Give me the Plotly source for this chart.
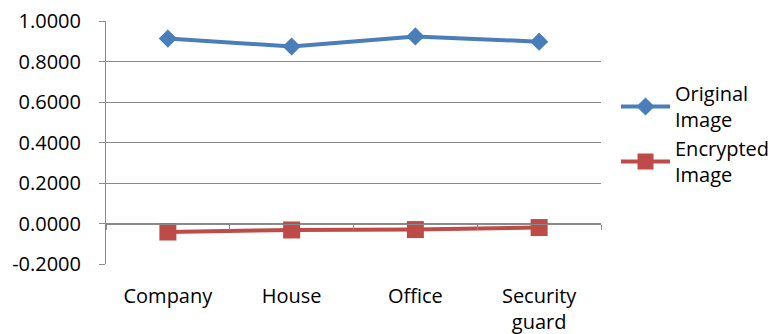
import plotly.graph_objects as go

# Category labels and per-scene correlation values
categories = ["Company", "House", "Office", "Security guard"]
tick_labels = ["Company", "House", "Office", "Security<br>guard"]
original = [0.9130, 0.8740, 0.9240, 0.8980]
encrypted = [-0.0420, -0.0320, -0.0300, -0.0200]

y_ticks = [-0.2, 0.0, 0.2, 0.4, 0.6, 0.8, 1.0]
y_tick_text = [f"{v:.4f}" for v in y_ticks]

BLUE = "#4A7EBB"
RED = "#BE4B48"
GRID = "#8A8A8A"
FONT = "Open Sans"
FS = 20

fig = go.Figure()

fig.add_trace(go.Scatter(
    x=categories, y=original, name="Original<br>Image",
    mode="lines+markers",
    line=dict(color=BLUE, width=4),
    marker=dict(symbol="diamond", size=14, color=BLUE),
))
fig.add_trace(go.Scatter(
    x=categories, y=encrypted, name="Encrypted<br>Image",
    mode="lines+markers",
    line=dict(color=RED, width=4),
    marker=dict(symbol="square", size=17, color=RED),
))
# transparent copy on the overlay axis that carries the zero-line ticks
fig.add_trace(go.Scatter(
    x=categories, y=encrypted, xaxis="x2", mode="markers",
    marker=dict(opacity=0), showlegend=False, hoverinfo="skip",
))

y_lo, y_hi = -0.2, 1.0

fig.update_layout(
    width=773, height=334,
    margin=dict(l=106, r=172, t=21, b=69.5, autoexpand=False),
    paper_bgcolor="white", plot_bgcolor="white",
    font=dict(family=FONT, size=FS, color="black"),
    showlegend=True,
    legend=dict(
        xref="container", yref="container",
        x=616 / 773, xanchor="left", y=1 - 74 / 334, yanchor="top",
        font=dict(family=FONT, size=FS, color="black"),
        tracegroupgap=12, itemwidth=49,
        bgcolor="rgba(0,0,0,0)",
    ),
    xaxis=dict(
        type="category", categoryorder="array", categoryarray=categories,
        range=[-0.5, 3.5], automargin=False,
        tickvals=categories, ticktext=tick_labels,
        showline=False, showgrid=False, zeroline=False,
        ticks="outside", ticklen=14, tickcolor="rgba(0,0,0,0)",
        tickfont=dict(family=FONT, size=FS, color="black"),
    ),
    xaxis2=dict(
        type="category", categoryorder="array", categoryarray=categories,
        range=[-0.5, 3.5], overlaying="x", anchor="free", automargin=False,
        position=(0 - y_lo) / (y_hi - y_lo),
        tickson="boundaries", ticks="outside", ticklen=5,
        tickcolor=GRID, tickwidth=1,
        showticklabels=False, showline=True, linecolor=GRID, linewidth=1,
        showgrid=False, zeroline=False,
    ),
    yaxis=dict(
        range=[y_lo, y_hi], tickvals=y_ticks, ticktext=y_tick_text,
        automargin=False,
        showline=True, linecolor=GRID, linewidth=1,
        showgrid=True, gridcolor=GRID, gridwidth=1,
        zeroline=False,
        ticks="outside", ticklen=6, tickcolor=GRID,
        ticklabelstandoff=14,
        tickfont=dict(family=FONT, size=FS, color="black"),
    ),
)

fig.write_html("out.html")
